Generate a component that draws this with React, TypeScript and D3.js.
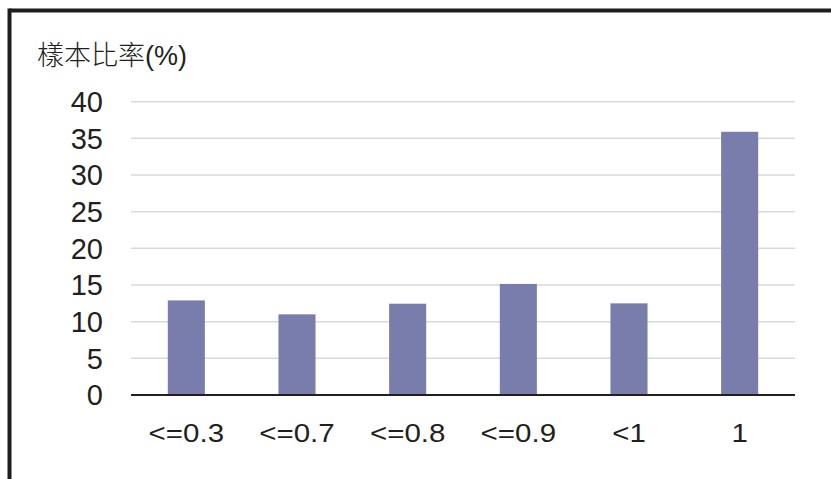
import React from "react";
import * as d3 from "d3";

const categories = ["<=0.3", "<=0.7", "<=0.8", "<=0.9", "<1", "1"];
const shares = [12.9, 11.0, 12.45, 15.15, 12.5, 35.9];
const yTicks = [0, 5, 10, 15, 20, 25, 30, 35, 40];
const yTitle = "樣本比率(%)";

const W = 831;
const H = 479;
const plot = { left: 131, right: 795, top: 101.7, bottom: 395 };

export default function App() {
  const x = d3
    .scaleBand<string>()
    .domain(categories)
    .range([plot.left, plot.right])
    .paddingInner(0.665)
    .paddingOuter(0.3325);
  const y = d3.scaleLinear().domain([0, 40]).range([plot.bottom, plot.top]);

  const latin = "'Liberation Sans', Arial, sans-serif";

  return (
    <svg
      width={W}
      height={H}
      viewBox={`0 0 ${W} ${H}`}
      style={{ position: "absolute", left: 0, top: 0, background: "#fff" }}
    >
      {/* frame: only the top and left edges fall inside the view */}
      <line x1={9.5} y1={10.5} x2={W + 5} y2={10.5} stroke="#1f1c1d" strokeWidth={4} />
      <line x1={9.5} y1={8.5} x2={9.5} y2={H + 5} stroke="#1f1c1d" strokeWidth={4} />

      <text
        x={37}
        y={64.5}
        fontSize={27}
        fill="#231f20"
        fontFamily="'Noto Sans CJK TC', 'Noto Sans CJK SC', sans-serif"
        fontWeight={300}
      >
        {yTitle.slice(0, 4)}
        <tspan fontFamily={latin} fontWeight={400}>
          {yTitle.slice(4)}
        </tspan>
      </text>

      {yTicks.map((t) => (
        <g key={t}>
          {t > 0 && (
            <line
              x1={plot.left}
              x2={plot.right}
              y1={y(t)}
              y2={y(t)}
              stroke="#d9d9d9"
              strokeWidth={1.5}
            />
          )}
          <text
            x={103}
            y={y(t) + 10.4}
            textAnchor="end"
            fontSize={29}
            fill="#231f20"
            fontFamily={latin}
          >
            {t}
          </text>
        </g>
      ))}

      {categories.map((c, i) => (
        <rect
          key={c}
          x={x(c)}
          y={y(shares[i])}
          width={x.bandwidth()}
          height={y(0) - y(shares[i])}
          fill="#787dab"
        />
      ))}

      <line
        x1={plot.left}
        x2={plot.right}
        y1={y(0)}
        y2={y(0)}
        stroke="#231f20"
        strokeWidth={2}
      />

      {categories.map((c) => {
        const cx = (x(c) ?? 0) + x.bandwidth() / 2;
        return (
          <text
            key={c}
            transform={`translate(${cx},442) scale(1.18,1)`}
            textAnchor="middle"
            fontSize={25}
            fill="#231f20"
            fontFamily={latin}
          >
            {c}
          </text>
        );
      })}
    </svg>
  );
}
